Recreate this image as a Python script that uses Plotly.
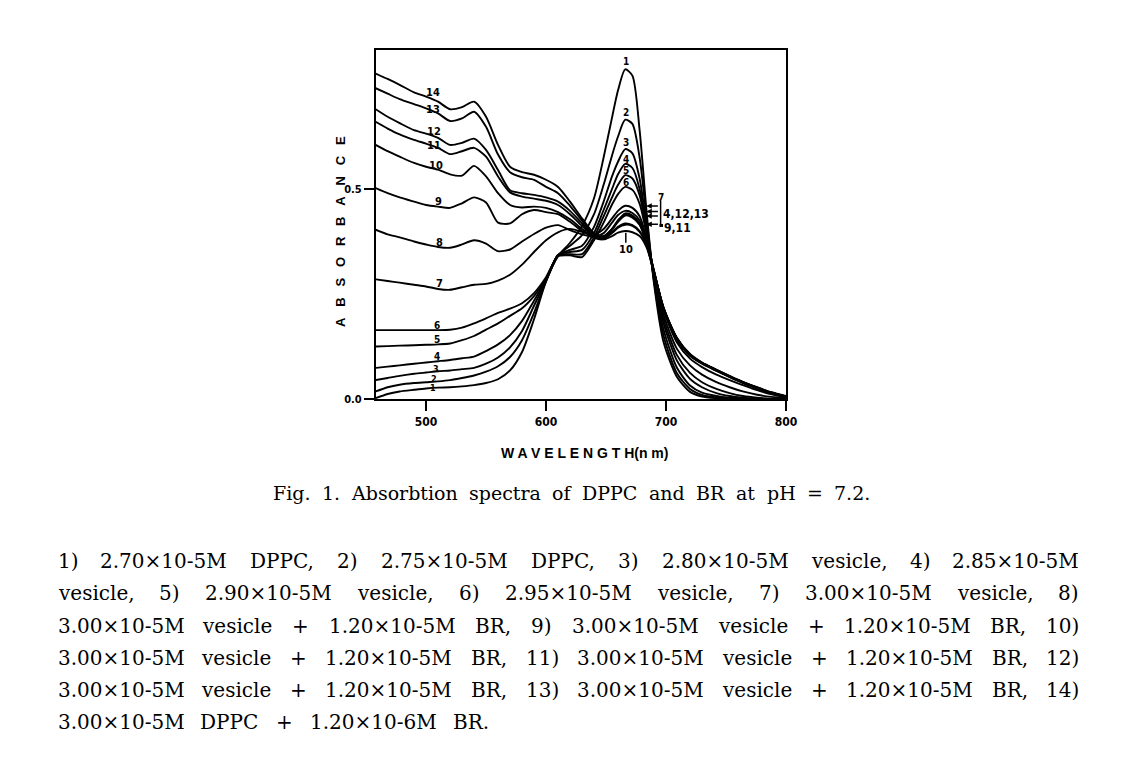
import numpy as np
import plotly.graph_objects as go

# ---------------- data ----------------
WL = [458, 468, 478, 490, 500, 510, 520, 530, 540, 550, 560, 570, 580, 590, 600,
      610, 620, 630, 640, 648, 655, 660, 666, 672, 678, 684, 690, 698, 709, 720,
      730, 742, 753, 764, 776, 788, 800]

C1 = [0.002, 0.012, 0.018, 0.022, 0.025, 0.027, 0.028, 0.030, 0.033, 0.038, 0.047, 0.068, 0.112, 0.190, 0.280,
      0.340, 0.372, 0.412, 0.478, 0.575, 0.670, 0.735, 0.785, 0.770, 0.640, 0.440, 0.275, 0.135, 0.053, 0.017,
      0.006, 0.002, 0.0, 0.0, 0.0, 0.0, 0.0]
C2 = [0.018, 0.028, 0.034, 0.038, 0.040, 0.042, 0.045, 0.050, 0.056, 0.065, 0.078, 0.100, 0.140, 0.205, 0.280,
      0.342, 0.365, 0.390, 0.440, 0.510, 0.580, 0.625, 0.665, 0.655, 0.575, 0.425, 0.280, 0.150, 0.062, 0.024,
      0.010, 0.004, 0.002, 0.001, 0.0, 0.0, 0.0]
C3 = [0.045, 0.050, 0.055, 0.060, 0.063, 0.066, 0.068, 0.071, 0.074, 0.084, 0.099, 0.123, 0.162, 0.222, 0.282,
      0.343, 0.355, 0.365, 0.410, 0.470, 0.530, 0.565, 0.595, 0.585, 0.525, 0.410, 0.285, 0.165, 0.075, 0.032,
      0.015, 0.007, 0.003, 0.001, 0.0, 0.0, 0.0]
C4 = [0.074, 0.077, 0.080, 0.084, 0.087, 0.090, 0.093, 0.097, 0.101, 0.114, 0.130, 0.152, 0.186, 0.234, 0.284,
      0.343, 0.350, 0.355, 0.395, 0.450, 0.500, 0.535, 0.560, 0.550, 0.500, 0.400, 0.290, 0.180, 0.092, 0.048,
      0.028, 0.014, 0.007, 0.003, 0.001, 0.0, 0.0]
C5 = [0.125, 0.126, 0.127, 0.128, 0.129, 0.130, 0.132, 0.140, 0.150, 0.165, 0.180, 0.198, 0.216, 0.245, 0.285,
      0.342, 0.345, 0.345, 0.385, 0.435, 0.480, 0.510, 0.533, 0.525, 0.485, 0.395, 0.295, 0.190, 0.105, 0.062,
      0.040, 0.024, 0.014, 0.007, 0.003, 0.001, 0.0]
C6 = [0.164, 0.164, 0.164, 0.164, 0.164, 0.164, 0.165, 0.170, 0.180, 0.192, 0.205, 0.215, 0.228, 0.252, 0.290,
      0.340, 0.342, 0.338, 0.378, 0.420, 0.463, 0.488, 0.505, 0.498, 0.465, 0.390, 0.300, 0.200, 0.120, 0.080,
      0.058, 0.040, 0.028, 0.018, 0.010, 0.005, 0.002]
C7 = [0.285, 0.281, 0.277, 0.272, 0.268, 0.262, 0.260, 0.266, 0.272, 0.274, 0.282, 0.296, 0.320, 0.350, 0.378,
      0.397, 0.405, 0.398, 0.392, 0.405, 0.430, 0.448, 0.460, 0.455, 0.435, 0.380, 0.300, 0.210, 0.135, 0.096,
      0.076, 0.058, 0.045, 0.033, 0.021, 0.011, 0.004]
C8 = [0.403, 0.392, 0.385, 0.375, 0.368, 0.362, 0.360, 0.368, 0.378, 0.370, 0.352, 0.356, 0.375, 0.393, 0.408,
      0.414, 0.402, 0.392, 0.386, 0.395, 0.420, 0.438, 0.448, 0.443, 0.425, 0.375, 0.305, 0.215, 0.142, 0.103,
      0.084, 0.067, 0.052, 0.038, 0.025, 0.013, 0.005]
C9 = [0.502, 0.490, 0.480, 0.470, 0.462, 0.458, 0.455, 0.466, 0.480, 0.468, 0.420, 0.418, 0.440, 0.450, 0.445,
      0.440, 0.422, 0.400, 0.385, 0.385, 0.398, 0.410, 0.418, 0.414, 0.400, 0.365, 0.300, 0.215, 0.143, 0.104,
      0.085, 0.068, 0.053, 0.039, 0.026, 0.014, 0.006]
C10 = [0.605, 0.590, 0.577, 0.562, 0.553, 0.546, 0.535, 0.532, 0.555, 0.530, 0.490, 0.462, 0.456, 0.458, 0.455,
       0.445, 0.428, 0.405, 0.384, 0.380, 0.388, 0.396, 0.400, 0.397, 0.388, 0.360, 0.300, 0.215, 0.144, 0.105,
       0.086, 0.069, 0.054, 0.040, 0.027, 0.015, 0.006]
C11 = [0.660, 0.644, 0.630, 0.617, 0.608, 0.598, 0.583, 0.590, 0.598, 0.577, 0.530, 0.492, 0.482, 0.477, 0.472,
       0.462, 0.440, 0.412, 0.388, 0.382, 0.395, 0.408, 0.415, 0.412, 0.398, 0.365, 0.302, 0.216, 0.144, 0.105,
       0.085, 0.068, 0.053, 0.039, 0.026, 0.014, 0.006]
C12 = [0.690, 0.672, 0.657, 0.640, 0.632, 0.622, 0.605, 0.610, 0.620, 0.593, 0.545, 0.497, 0.490, 0.486, 0.480,
       0.470, 0.448, 0.418, 0.390, 0.385, 0.405, 0.425, 0.442, 0.437, 0.418, 0.372, 0.304, 0.217, 0.145, 0.106,
       0.086, 0.069, 0.054, 0.040, 0.027, 0.015, 0.006]
C13 = [0.740, 0.727, 0.714, 0.702, 0.692, 0.680, 0.662, 0.668, 0.684, 0.648, 0.582, 0.540, 0.528, 0.522, 0.505,
       0.490, 0.460, 0.425, 0.393, 0.387, 0.403, 0.422, 0.437, 0.432, 0.415, 0.370, 0.303, 0.216, 0.145, 0.106,
       0.086, 0.069, 0.054, 0.040, 0.027, 0.015, 0.006]
C14 = [0.775, 0.762, 0.748, 0.730, 0.720, 0.708, 0.690, 0.695, 0.708, 0.672, 0.605, 0.553, 0.540, 0.534, 0.522,
       0.505, 0.470, 0.430, 0.395, 0.388, 0.405, 0.425, 0.440, 0.435, 0.416, 0.371, 0.304, 0.217, 0.146, 0.107,
       0.087, 0.070, 0.055, 0.041, 0.028, 0.016, 0.007]

CURVES = [C1, C2, C3, C4, C5, C6, C7, C8, C9, C10, C11, C12, C13, C14]
CURVE_LABELS = [str(i) for i in range(1, 15)]

X_TICKS = [500, 600, 700, 800]
X_TICK_TEXT = ["500", "600", "700", "800"]
Y_TICKS = [0.0, 0.5]
Y_TICK_TEXT = ["0.0", "0.5"]

X_TITLE = "W A V E L E N G T H(n m)"
Y_TITLE = "\u00a0\u00a0\u00a0".join("ABSORBANCE")
CAPTION = "Fig. 1. Absorbtion spectra of DPPC and BR at pH = 7.2."
NOTE_LINES = [
    "1) 2.70×10-5M DPPC, 2) 2.75×10-5M DPPC, 3) 2.80×10-5M vesicle, 4) 2.85×10-5M",
    "vesicle, 5) 2.90×10-5M vesicle, 6) 2.95×10-5M vesicle, 7) 3.00×10-5M vesicle, 8)",
    "3.00×10-5M vesicle + 1.20×10-5M BR, 9) 3.00×10-5M vesicle + 1.20×10-5M BR, 10)",
    "3.00×10-5M vesicle + 1.20×10-5M BR, 11) 3.00×10-5M vesicle + 1.20×10-5M BR, 12)",
    "3.00×10-5M vesicle + 1.20×10-5M BR, 13) 3.00×10-5M vesicle + 1.20×10-5M BR, 14)",
    "3.00×10-5M DPPC + 1.20×10-6M BR.",
]

# ---------------- layout constants ----------------
W, H = 1136, 761
PL, PR, PT, PB = 376, 786, 50, 399
NARROW = "Liberation Sans Narrow, DejaVu Sans Condensed, Liberation Sans, sans-serif"
SANS = "Liberation Sans, Arial, sans-serif"
SERIF = "DejaVu Serif, serif"
PEAK_X = 666.5

fig = go.Figure()
for name, ys in zip(CURVE_LABELS, CURVES):
    fig.add_trace(go.Scatter(x=WL, y=ys, mode="lines", name=name, showlegend=False,
                             hoverinfo="skip",
                             line=dict(color="black", width=1.9, shape="spline", smoothing=0.7)))

fig.update_layout(
    width=W, height=H,
    margin=dict(l=PL, r=W - PR, t=PT, b=H - PB, pad=0),
    paper_bgcolor="white", plot_bgcolor="white", showlegend=False,
)
fig.update_xaxes(range=[458.3, 800], tickvals=X_TICKS, ticktext=X_TICK_TEXT,
                 showline=True, mirror=True, linecolor="black", linewidth=2.2,
                 ticks="outside", ticklen=10, tickwidth=2, tickcolor="black",
                 tickfont=dict(family=NARROW, size=12, color="black", weight="bold"),
                 showgrid=False, zeroline=False)
fig.update_yaxes(range=[0, 0.831], tickvals=Y_TICKS, ticktext=Y_TICK_TEXT,
                 showline=True, mirror=True, linecolor="black", linewidth=2.2,
                 ticks="outside", ticklen=10, tickwidth=2, tickcolor="black",
                 tickfont=dict(family=NARROW, size=11, color="black", weight="bold"),
                 showgrid=False, zeroline=False)


def px2paper(px, py):
    return (px - PL) / (PR - PL), (PB - py) / (PB - PT)


def at(x, ys):
    return float(np.interp(x, WL, ys))


def label(x, y, text, size=11, yshift=0, xanchor="center"):
    fig.add_annotation(x=x, y=y, xref="x", yref="y", text=text, showarrow=False,
                       xanchor=xanchor, yanchor="middle", yshift=yshift, borderpad=0,
                       font=dict(family=NARROW, size=size, color="black", weight="bold"))


# labels along the left part of the curves
LEFT_X = [506, 507, 508, 509, 509, 509, 511, 511, 510, 508, 507, 507, 506, 506]
LEFT_SHIFT = [0, 3, 3, 5, 5, 5, 6, 5, 5, 4, 1, 5, 2, 7]
LEFT_SIZE = [9, 9, 9, 10, 10, 10, 11, 11, 11, 11, 11, 11, 11, 11]
for i, ys in enumerate(CURVES):
    label(LEFT_X[i], at(LEFT_X[i], ys), CURVE_LABELS[i], size=LEFT_SIZE[i], yshift=LEFT_SHIFT[i])

# labels above the peaks of curves 1-6
PEAK_SHIFT = [8, 8, 7, 5, 5, 5]
for i in range(6):
    label(PEAK_X, at(PEAK_X, CURVES[i]), CURVE_LABELS[i], size=10, yshift=PEAK_SHIFT[i])

# label "10" under the lowest peak with a small stem
p10 = at(PEAK_X, C10)
fig.add_shape(type="line", x0=PEAK_X, x1=PEAK_X, y0=p10 - 0.004, y1=p10 - 0.028,
              line=dict(color="black", width=1.5))
label(PEAK_X, p10 - 0.043, "10", size=11)

# arrows to the right of the peaks
ARROW_Y = [at(PEAK_X, C7), at(PEAK_X, C12) + 0.005, at(PEAK_X, C14) - 0.004,
           (at(PEAK_X, C9) + at(PEAK_X, C11)) / 2]
for ay in ARROW_Y:
    fig.add_annotation(x=683.5, y=ay, ax=694.5, ay=ay, xref="x", yref="y", axref="x", ayref="y",
                       text="", showarrow=True, arrowhead=2, arrowsize=0.8, arrowwidth=1.4,
                       arrowcolor="black")
fig.add_shape(type="line", x0=695.5, x1=695.5, y0=ARROW_Y[0] + 0.012, y1=ARROW_Y[3],
              line=dict(color="black", width=1.5))
fig.add_shape(type="line", x0=694.5, x1=697.5, y0=ARROW_Y[3] - 0.003, y1=ARROW_Y[3] - 0.003,
              line=dict(color="black", width=3))
label(695.8, ARROW_Y[0] + 0.02, "7", size=10)
label(696.5, (ARROW_Y[1] + ARROW_Y[2]) / 2, "4,12,13", size=12, xanchor="left")
label(697.5, ARROW_Y[3] - 0.008, "9,11", size=12, xanchor="left")

# axis titles
xp, yp = px2paper(584, 453)
fig.add_annotation(x=xp, y=yp, xref="paper", yref="paper", text=X_TITLE, showarrow=False,
                   xanchor="center", yanchor="middle",
                   font=dict(family=SANS, size=14, color="black", weight="bold"))
xp, yp = px2paper(340, 232)
fig.add_annotation(x=xp, y=yp, xref="paper", yref="paper", text=Y_TITLE, showarrow=False,
                   textangle=-90, xanchor="center", yanchor="middle",
                   font=dict(family=SANS, size=13, color="black", weight="bold"))

# caption and note text (justified word by word)
EM = {ch: 0.636 for ch in "0123456789"}
EM.update({" ": 0.318, ".": 0.318, ",": 0.318, "(": 0.39, ")": 0.39, "×": 0.838, "+": 0.838,
           "-": 0.338, "=": 0.838, "M": 0.955, "D": 0.803, "P": 0.676, "C": 0.734, "B": 0.737,
           "R": 0.730, "F": 0.720, "A": 0.722, "H": 0.872, "a": 0.596, "b": 0.640, "c": 0.560,
           "d": 0.640, "e": 0.592, "f": 0.370, "g": 0.640, "i": 0.320, "l": 0.320, "n": 0.644,
           "o": 0.602, "p": 0.640, "r": 0.478, "s": 0.513, "t": 0.402, "v": 0.565})


def text_width(s, size):
    return sum(EM.get(ch, 0.6) for ch in s) * size


def place_line(line, left, right, py, size):
    words = line.split(" ")
    widths = [text_width(w, size) for w in words]
    gap = (right - left - sum(widths)) / max(len(words) - 1, 1)
    x = left
    for i, (w, wd) in enumerate(zip(words, widths)):
        if i == 0:
            px, anchor = left, "left"
        elif i == len(words) - 1:
            px, anchor = right, "right"
        else:
            px, anchor = x + wd / 2, "center"
        xp, yp = px2paper(px, py)
        fig.add_annotation(x=xp, y=yp, xref="paper", yref="paper", text=w, showarrow=False,
                           xanchor=anchor, yanchor="middle", borderpad=0,
                           font=dict(family=SERIF, size=size, color="black"))
        x += wd + gap


place_line(CAPTION, 272, 871, 493, 19)
NOTE_Y = [561, 593, 626, 658, 690, 722]
NOTE_RIGHT = [1080, 1080, 1080, 1080, 1080, 490]
for line, py, rx in zip(NOTE_LINES, NOTE_Y, NOTE_RIGHT):
    place_line(line, 57, rx, py, 20)

fig.write_html("out.html", config={"displayModeBar": False},
               post_script="document.body.style.margin='0';document.body.style.overflow='hidden';")
